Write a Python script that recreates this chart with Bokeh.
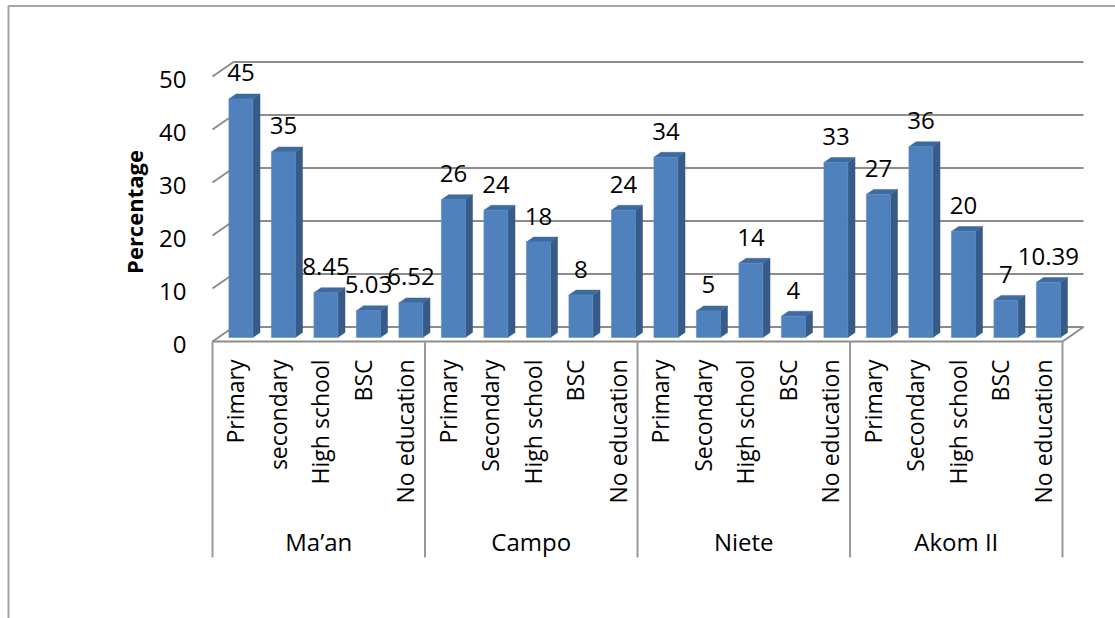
from bokeh.plotting import figure
from bokeh.models import Range1d, LinearAxis, FixedTicker
from bokeh.core.properties import value
from bokeh.embed import file_html
from bokeh.resources import INLINE

# ---- data -------------------------------------------------------------
groups = ["Ma’an", "Campo", "Niete", "Akom II"]
levels_maan = ["Primary", "secondary", "High school", "BSC", "No education"]
levels_other = ["Primary", "Secondary", "High school", "BSC", "No education"]
maan = [45, 35, 8.45, 5.03, 6.52]
campo = [26, 24, 18, 8, 24]
niete = [34, 5, 14, 4, 33]
akom = [27, 36, 20, 7, 10.39]
y_ticks = [0, 10, 20, 30, 40, 50]

levels = [levels_maan, levels_other, levels_other, levels_other]
series = [maan, campo, niete, akom]
labels = [lv for grp in levels for lv in grp]
values = [v for s in series for v in s]
n = len(values)
per_group = len(maan)

# ---- geometry of the pseudo-3D box -------------------------------------
W, H = 1115, 618
ORIGIN_X, ORIGIN_Y = 212, 341      # front-left corner of the floor (px)
SLOT_PX, UNIT_PX = 42.5, 5.3       # one category slot / one percent (px)
DX, DY = 21 / SLOT_PX, 14.5 / UNIT_PX   # full depth offset in data units
D_FRONT, D_BACK = 0.28, 0.62       # depth of bar front and back faces
HALF_W = 0.282                     # half bar width (slot units)
SHIFT = 0.03
LABEL_DROP = 3                     # value-axis labels sit slightly below the front plane


def px_x(x):
    return (x - ORIGIN_X) / SLOT_PX


def px_y(y):
    return (ORIGIN_Y - y) / UNIT_PX


def proj(u, v, d):
    return u + d * DX, v + d * DY


FONT = "Open Sans"
FONT_SIZE = "24px"
CAT_FONT_SIZE = "23px"
GRID = "#8c8c8c"
FRONT, SIDE, TOP = "#4f81bd", "#375b88", "#3f6a9e"

p = figure(width=W, height=H, output_backend="svg", toolbar_location=None,
           x_axis_type=None, y_axis_type=None, min_border=0,
           x_range=Range1d(px_x(0), px_x(W)), y_range=Range1d(px_y(H), px_y(0)))
p.extra_y_ranges = {"front": Range1d((ORIGIN_Y + LABEL_DROP - H) / UNIT_PX,
                                     (ORIGIN_Y + LABEL_DROP) / UNIT_PX)}
p.outline_line_color = None
p.background_fill_color = "white"
p.border_fill_color = "white"
p.grid.visible = False

# chart-area border (only its top and left edges fall on the page)
p.line([px_x(8), px_x(8), px_x(W + 10)], [px_y(H + 10), px_y(5.5), px_y(5.5)],
       line_color="#a6a6a6", line_width=2)

# back-wall gridlines and left-wall diagonals
gx0, gx1, gy0, gy1 = [], [], [], []
for t in y_ticks:
    a = proj(0, t, 1)
    b = proj(n, t, 1)
    gx0.append(a[0]); gy0.append(a[1]); gx1.append(b[0]); gy1.append(b[1])
    c = proj(0, t, 0)
    gx0.append(c[0]); gy0.append(c[1]); gx1.append(a[0]); gy1.append(a[1])
p.segment(gx0, gy0, gx1, gy1, line_color=GRID, line_width=2)

# floor front edge and right edge
f0, f1, f2 = proj(0, 0, 0), proj(n, 0, 0), proj(n, 0, 1)
p.line([f0[0], f1[0], f2[0]], [f0[1], f1[1], f2[1]], line_color=GRID, line_width=2)

# category table below the floor
table_bottom = px_y(557)
sep = list(range(0, n + 1, per_group))
p.segment(sep, [0] * len(sep), sep, [table_bottom] * len(sep),
          line_color="#999999", line_width=2)

# bars
side_xs, side_ys, top_xs, top_ys = [], [], [], []
fl, fr, fb, ft = [], [], [], []
lab_x, lab_y = [], []
for i, v in enumerate(values):
    cx = i + 0.5 + SHIFT
    l, r = cx - HALF_W, cx + HALF_W
    a = proj(l, v, D_FRONT); b = proj(r, v, D_FRONT)
    c = proj(r, v, D_BACK); d = proj(l, v, D_BACK)
    e = proj(r, 0, D_FRONT); g = proj(r, 0, D_BACK)
    top_xs.append([a[0], b[0], c[0], d[0]]); top_ys.append([a[1], b[1], c[1], d[1]])
    side_xs.append([e[0], b[0], c[0], g[0]]); side_ys.append([e[1], b[1], c[1], g[1]])
    fl.append(a[0]); fr.append(b[0]); fb.append(e[1]); ft.append(a[1])
    lab_x.append((a[0] + b[0]) / 2); lab_y.append(a[1] + 26 / UNIT_PX)

p.patches(side_xs, side_ys, fill_color=SIDE, line_color=SIDE, line_width=0.5)
p.patches(top_xs, top_ys, fill_color=TOP, line_color=TOP, line_width=0.5)
p.quad(left=fl, right=fr, bottom=fb, top=ft, fill_color=FRONT,
       line_color="#5a8cc8", line_width=0.6)

# value labels
p.text(lab_x, lab_y, text=[f"{v:g}" for v in values], text_align="center",
       text_baseline="middle", text_font=value(FONT), text_font_size=FONT_SIZE,
       text_color="black")

# rotated category labels
p.text([i + 0.54 for i in range(n)], [px_y(359)] * n, text=labels, angle=1.5708,
       text_align="right", text_baseline="middle", text_font=value(FONT),
       text_font_size=CAT_FONT_SIZE, text_color="black")

# group labels
p.text([k * per_group + per_group / 2 for k in range(len(groups))],
       [px_y(541)] * len(groups), text=groups,
       text_align="center", text_baseline="middle", text_font=value(FONT),
       text_font_size=FONT_SIZE, text_color="black")

# value axis drawn on the front plane
yaxis = LinearAxis(ticker=FixedTicker(ticks=y_ticks), fixed_location=px_x(197),
                   y_range_name="front", bounds=(y_ticks[0], y_ticks[-1]),
                   axis_label="Percentage")
yaxis.axis_line_color = None
yaxis.major_tick_line_color = None
yaxis.minor_tick_line_color = None
yaxis.major_label_standoff = 5
yaxis.major_label_text_font = FONT
yaxis.major_label_text_font_size = FONT_SIZE
yaxis.major_label_text_color = "black"
yaxis.axis_label_text_font = FONT
yaxis.axis_label_text_font_size = "22px"
yaxis.axis_label_text_font_style = "bold"
yaxis.axis_label_text_color = "black"
yaxis.axis_label_standoff = 7
p.add_layout(yaxis, "left")

open("out.html", "w").write(file_html(p, INLINE))
